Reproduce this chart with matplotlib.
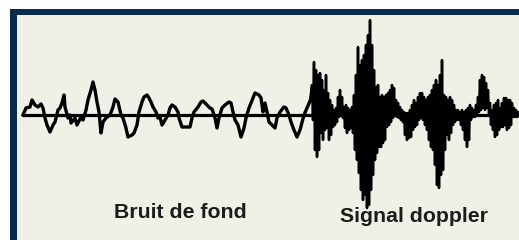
import matplotlib
matplotlib.use("Agg")
import matplotlib.pyplot as plt
from matplotlib.patches import Rectangle

# ---- data (amplitude, positive = up) ----
noise_t = [23, 26, 30, 32, 35, 38, 41, 43, 45, 47, 50, 53, 55, 58, 60, 62, 64, 65, 68, 70,
           71, 75, 77, 81, 83, 86, 88, 91, 93, 95, 97, 99, 101, 103, 106, 110, 113, 115,
           118, 121, 123, 126, 128, 132, 134, 137, 139, 142, 144, 147, 149, 151, 153, 156,
           158, 160, 162, 165, 168, 170, 172, 175, 178, 179, 182, 187, 190, 192, 194, 198,
           201, 203, 207, 210, 212, 215, 217, 219, 222, 225, 229, 231, 233, 235, 238, 241,
           244, 246, 249, 253, 255, 259, 261, 263, 265, 267, 269, 272, 275, 277, 280, 284,
           286, 289, 291, 294, 297, 300, 304, 307, 310]
noise_v = [0, 7, 8, 15, 10, 8, 11, 7, -3, -10, -17, -10, -7, 5, 7, 12, 20, 8, -3, 0,
           -8, -3, -10, -2, -5, 5, 15, 25, 33, 25, 13, 3, -18, -7, -3, 0, 8, 16,
           13, 0, -3, -13, -22, -20, -18, -10, 3, 13, 18, 20, 17, 13, 8, 3,
           -3, -2, -10, -5, 0, 7, 10, 8, 3, -3, -12, -12, -12, -3, 3, 8,
           13, 14, 10, 7, 6, -3, -13, -3, 7, 10, 13, 12, 3, -5, -10, -22,
           -13, -3, 7, 17, 22, 20, 17, 3, 12, 3, -7, -10, -13, -3, 3, 8,
           7, 0, -7, -15, -22, -15, 0, 7, 14]

burst_t = [312, 314, 316, 318, 320, 322, 324, 326, 328, 330, 332, 334, 336, 338, 340, 342,
           344, 346, 348, 350, 352, 354, 356, 358, 360, 362, 364, 366, 368, 370, 372, 374,
           376, 378, 380, 382, 384, 386, 388, 390, 392, 394, 396, 398, 400, 402, 404, 406,
           408, 410, 412, 414, 416, 418, 420, 422, 424, 426, 428, 430, 432, 434, 436, 438,
           440, 442, 444, 446, 448, 450, 452, 454, 456, 458, 460, 462, 464, 466, 468, 470,
           472, 474, 476, 478, 480, 482, 484, 486, 488, 490, 492, 494, 496, 498, 500, 502,
           504, 506, 508, 510, 512, 514, 516, 518]
burst_hi = [30, 53, 45, 40, 42, 35, 25, 40, 22, 15, 10, 5, 7, 18, 25, 18,
            8, 10, 7, 5, 8, 20, 40, 68, 50, 55, 60, 70, 80, 95, 70, 45,
            28, 30, 18, 20, 18, 20, 22, 25, 30, 27, 15, 12, 8, 5, 3, 2,
            2, 5, 10, 15, 12, 18, 22, 22, 18, 15, 18, 20, 25, 30, 35, 30,
            40, 55, 20, 18, 15, 18, 15, 10, 5, 5, 3, 5, 3, 5, 7, 10,
            7, 5, 10, 18, 35, 40, 38, 32, 25, 12, 5, 10, 12, 15, 7, 12,
            17, 17, 15, 15, 12, 7, 5, 3]
burst_lo = [-5, -35, -42, -35, -18, -25, -15, -13, -25, -20, -12, -10, -7, -2, -1, -3,
            -13, -18, -15, -13, -18, -35, -45, -58, -75, -85, -80, -93, -90, -75, -60, -45,
            -38, -32, -32, -28, -25, -12, -10, -7, -3, 0, -2, -3, -5, -7, -20, -25,
            -23, -22, -15, -12, -10, -5, -3, -5, -10, -15, -25, -32, -35, -50, -70, -73,
            -60, -55, -35, -20, -25, -18, -10, -7, -5, -5, -10, -15, -25, -32, -25, -5,
            -2, -2, 0, 3, 5, 7, 5, 7, 0, -10, -15, -22, -20, -15, -12, -12,
            -10, -15, -13, -10, -2, -2, -2, -1]

labels = ["Bruit de fond", "Signal doppler"]

# ---- figure ----
W, H = 519, 240
fig = plt.figure(figsize=(W / 100, H / 100), dpi=100)
fig.patch.set_facecolor("white")
ax = fig.add_axes([0, 0, 1, 1])
ax.set_xlim(0, W)
ax.set_ylim(-(H - 115), 115)
ax.axis("off")

navy = "#0b2a4a"
cream = "#eff0e6"


def top_to_val(y):
    return 115 - y


ax.add_patch(Rectangle((10, top_to_val(H + 5)), W, (H + 5) - 8.5,
                       facecolor=navy, edgecolor="none", zorder=0))
ax.add_patch(Rectangle((16.5, top_to_val(H + 5)), W, (H + 5) - 15,
                       facecolor=cream, edgecolor="none", zorder=1))

# baseline
ax.plot([22, W], [0, 0], color="black", lw=2.3, zorder=3, solid_capstyle="butt")

# background noise trace
ax.plot(noise_t, noise_v, color="black", lw=2.4, zorder=4)

# doppler burst: zig-zag between upper and lower excursions
zx, zy = [noise_t[-1]], [noise_v[-1]]
for t, hi, lo in zip(burst_t, burst_hi, burst_lo):
    zx += [t, t + 1]
    zy += [hi, lo]
ax.plot(zx, zy, color="black", lw=1.8, zorder=4)

tc = "#1c1c1c"
ax.text(180, top_to_val(218), labels[0], ha="center", va="baseline",
        fontsize=15.3, fontweight="bold", family="Liberation Sans", color=tc, zorder=5)
ax.text(414, top_to_val(222), labels[1], ha="center", va="baseline",
        fontsize=15.3, fontweight="bold", family="Liberation Sans", color=tc, zorder=5)

fig.savefig("out.png", dpi=100, facecolor="white")
